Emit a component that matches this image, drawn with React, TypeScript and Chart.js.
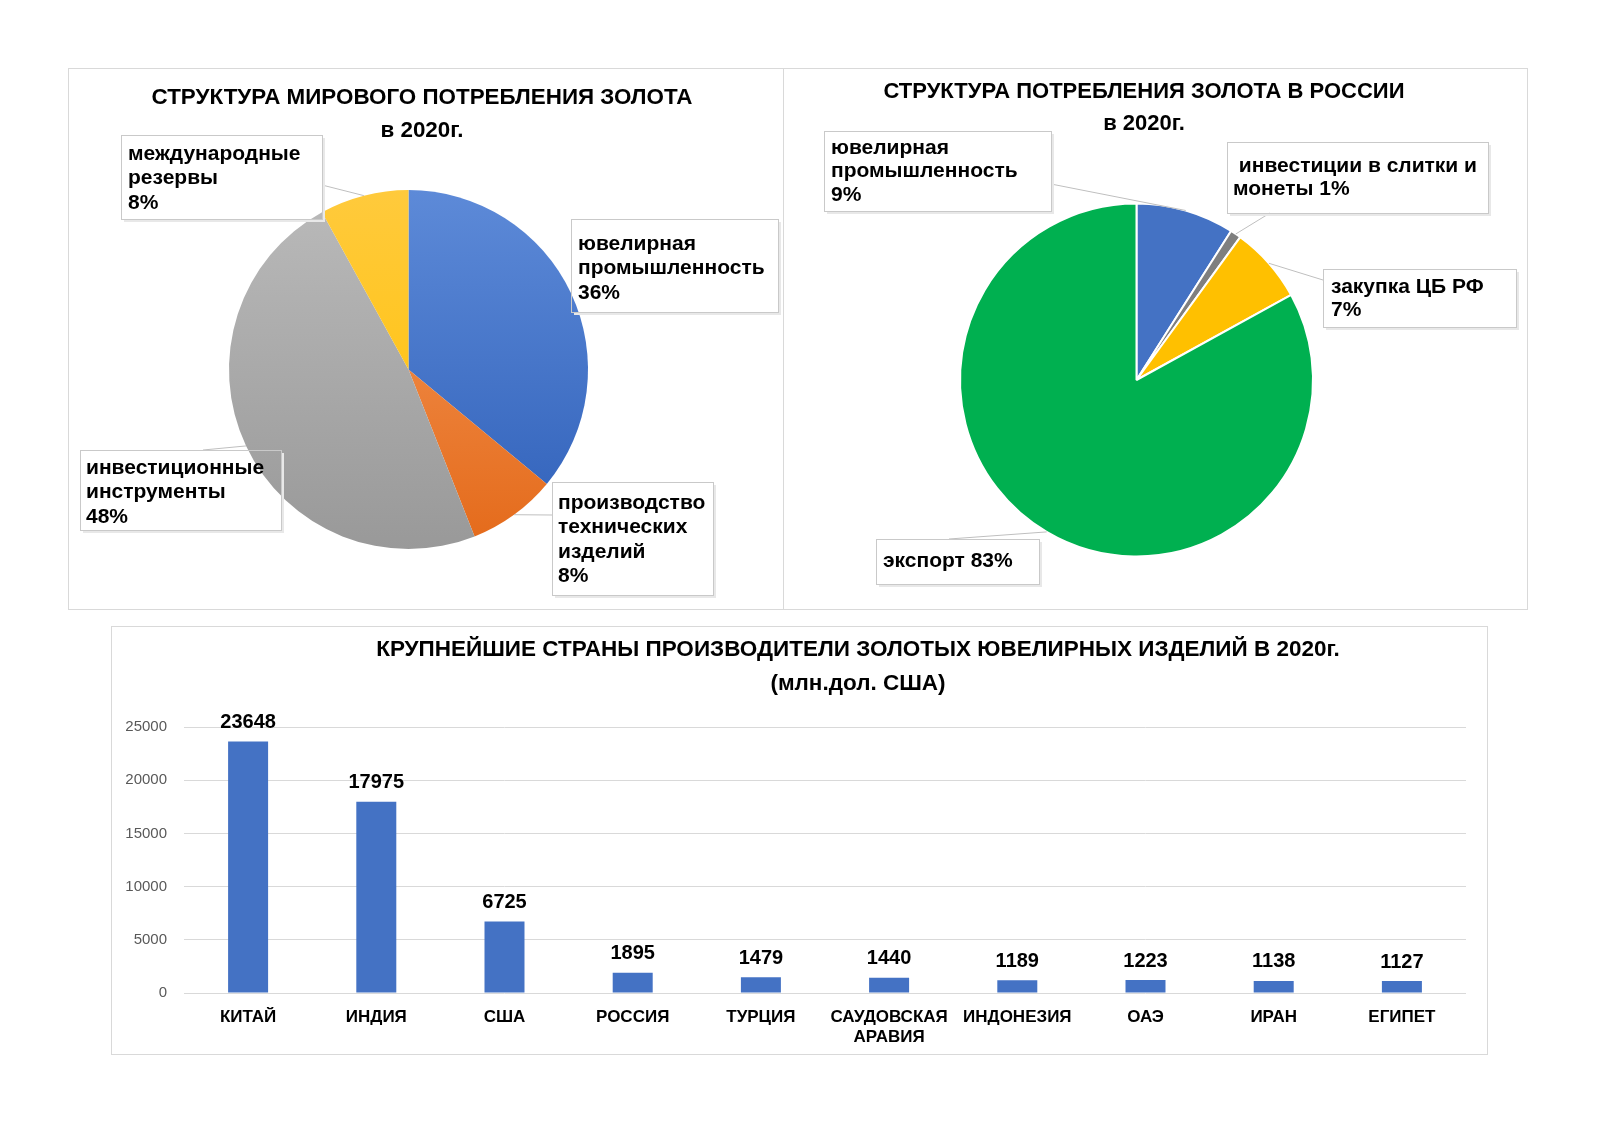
import React, { useEffect, useRef } from "react";
import { Chart, registerables } from "chart.js";

Chart.register(...registerables);

const FONT = '"Liberation Sans", Arial, Helvetica, sans-serif';

// ---------- World gold consumption 2020 ----------
const worldTitle = ["СТРУКТУРА МИРОВОГО ПОТРЕБЛЕНИЯ ЗОЛОТА", "в 2020г."];
const worldCategories = [
  "ювелирная промышленность",
  "производство технических изделий",
  "инвестиционные инструменты",
  "международные резервы",
];
const worldShares = [36, 8, 48, 8];
const worldLabelLines = [
  ["ювелирная", "промышленность"],
  ["производство", "технических", "изделий"],
  ["инвестиционные", "инструменты"],
  ["международные", "резервы"],
];
const worldColorsLight = ["#5d8ad8", "#f59a5c", "#bababa", "#ffca3c"];
const worldColorsDark = ["#2f60b9", "#e46a1a", "#999999", "#ffc000"];

// ---------- Russia gold consumption 2020 ----------
const russiaTitle = ["СТРУКТУРА ПОТРЕБЛЕНИЯ ЗОЛОТА В РОССИИ", "в 2020г."];
const russiaCategories = [
  "ювелирная промышленность",
  "инвестиции в слитки и монеты",
  "закупка ЦБ РФ",
  "экспорт",
];
const russiaShares = [9, 1, 7, 83];
const russiaLabelLines = [
  ["ювелирная", "промышленность"],
  [" инвестиции в слитки и", "монеты"],
  ["закупка ЦБ РФ"],
  ["экспорт"],
];
const russiaPctInline = [false, true, false, true];
const russiaColors = ["#4472C4", "#7f7f7f", "#FFC000", "#00B050"];

// ---------- Largest gold jewellery producers 2020 ----------
const barTitle = [
  "КРУПНЕЙШИЕ СТРАНЫ ПРОИЗВОДИТЕЛИ ЗОЛОТЫХ ЮВЕЛИРНЫХ ИЗДЕЛИЙ В 2020г.",
  "(млн.дол. США)",
];
const countries = [
  "КИТАЙ",
  "ИНДИЯ",
  "США",
  "РОССИЯ",
  "ТУРЦИЯ",
  ["САУДОВСКАЯ", "АРАВИЯ"],
  "ИНДОНЕЗИЯ",
  "ОАЭ",
  "ИРАН",
  "ЕГИПЕТ",
];
const productionValues = [23648, 17975, 6725, 1895, 1479, 1440, 1189, 1223, 1138, 1127];
const yTicks = [0, 5000, 10000, 15000, 20000, 25000];

function buildLines(lines: string[], pct: number, inline: boolean): string[] {
  const out = lines.slice();
  if (inline) out[out.length - 1] = out[out.length - 1] + " " + pct + "%";
  else out.push(pct + "%");
  return out;
}

const calloutPlugin = {
  id: "callouts",
  afterDraw(chart: any, _args: any, opts: any) {
    const ctx = chart.ctx as CanvasRenderingContext2D;
    const meta = chart.getDatasetMeta(0);
    ctx.save();
    ctx.fillStyle = "#000";
    ctx.font = `bold ${opts.titleSize}px ${FONT}`;
    ctx.textAlign = "center";
    ctx.textBaseline = "middle";
    (opts.title as string[]).forEach((t, i) => ctx.fillText(t, opts.titleX, opts.titleY + i * opts.titleGap));

    (opts.boxes as any[]).forEach((b, i) => {
      const arc = meta.data[i];
      if (!arc) return;
      const p = arc.getProps(["x", "y", "startAngle", "endAngle", "outerRadius"], true);
      const mid = (p.startAngle + p.endAngle) / 2;
      const px = p.x + Math.cos(mid) * p.outerRadius;
      const py = p.y + Math.sin(mid) * p.outerRadius;
      ctx.strokeStyle = "#bfbfbf";
      ctx.lineWidth = 1;
      ctx.beginPath();
      ctx.moveTo(px, py);
      ctx.lineTo(b.ax, b.ay);
      ctx.stroke();
      ctx.strokeStyle = "#e8e8e8";
      ctx.lineWidth = 2;
      ctx.beginPath();
      ctx.moveTo(b.x + b.w + 2, b.y + 3);
      ctx.lineTo(b.x + b.w + 2, b.y + b.h + 2);
      ctx.lineTo(b.x + 3, b.y + b.h + 2);
      ctx.stroke();
      ctx.strokeStyle = "#c9c9c9";
      ctx.lineWidth = 1;
      ctx.strokeRect(Math.round(b.x) + 0.5, Math.round(b.y) + 0.5, b.w, b.h);
      ctx.fillStyle = "#000";
      ctx.font = `bold ${opts.labelSize}px ${FONT}`;
      ctx.textAlign = "left";
      ctx.textBaseline = "middle";
      (b.lines as string[]).forEach((ln, j) => ctx.fillText(ln, b.tx, b.ty + j * opts.labelGap));
    });
    ctx.restore();
  },
};

const barLabelPlugin = {
  id: "barExtras",
  afterDraw(chart: any, _args: any, opts: any) {
    const ctx = chart.ctx as CanvasRenderingContext2D;
    ctx.save();
    ctx.fillStyle = "#000";
    ctx.textAlign = "center";
    ctx.textBaseline = "middle";
    ctx.font = `bold ${opts.titleSize}px ${FONT}`;
    (opts.title as string[]).forEach((t, i) => ctx.fillText(t, opts.titleX, opts.titleY + i * opts.titleGap));
    ctx.font = `bold ${opts.valueSize}px ${FONT}`;
    const meta = chart.getDatasetMeta(0);
    const data = chart.data.datasets[0].data;
    meta.data.forEach((bar: any, i: number) => {
      ctx.fillText(String(data[i]), bar.x, bar.y - 19);
    });
    ctx.restore();
  },
};

const worldFill = (c: any) => {
  const i = c.dataIndex ?? 0;
  const chart = c.chart;
  const area = chart.chartArea;
  if (!area) return worldColorsDark[i];
  const g = chart.ctx.createLinearGradient(0, area.top, 0, area.bottom);
  g.addColorStop(0, worldColorsLight[i]);
  g.addColorStop(1, worldColorsDark[i]);
  return g;
};

const Panel: React.FC<{ x: number; y: number; w: number; h: number; make: (c: HTMLCanvasElement) => Chart }> = ({
  x,
  y,
  w,
  h,
  make,
}) => {
  const ref = useRef<HTMLCanvasElement | null>(null);
  useEffect(() => {
    if (!ref.current) return;
    const chart = make(ref.current);
    return () => chart.destroy();
  }, []);
  return (
    <>
      <canvas
        ref={ref}
        width={w}
        height={h}
        style={{ position: "absolute", left: x, top: y, width: w, height: h }}
      />
      <div
        style={{
          position: "absolute",
          left: x,
          top: y,
          width: w,
          height: h,
          boxSizing: "border-box",
          border: "1px solid #d9d9d9",
          pointerEvents: "none",
        }}
      />
    </>
  );
};

export default function App() {
  const makeWorld = (canvas: HTMLCanvasElement) =>
    new Chart(canvas, {
      type: "pie",
      data: {
        labels: worldCategories,
        datasets: [
          {
            data: worldShares,
            backgroundColor: worldFill as any,
            borderWidth: 0,
          },
        ],
      },
      options: {
        animation: false,
        responsive: false,
        layout: { padding: { left: 161, right: 196, top: 122, bottom: 61 } },
        plugins: {
          legend: { display: false },
          tooltip: { enabled: false },
          callouts: {
            title: worldTitle,
            titleX: 354,
            titleY: 30,
            titleGap: 33,
            titleSize: 22.4,
            labelSize: 21,
            labelGap: 24.5,
            boxes: [
              { x: 503, y: 151, w: 207, h: 93, tx: 510, ty: 176, ax: 503, ay: 225, lines: buildLines(worldLabelLines[0], worldShares[0], false) },
              { x: 484, y: 414, w: 161, h: 113, tx: 490, ty: 435, ax: 484, ay: 447, lines: buildLines(worldLabelLines[1], worldShares[1], false) },
              { x: 12, y: 382, w: 201, h: 80, tx: 18, ty: 400, ax: 135, ay: 382, lines: buildLines(worldLabelLines[2], worldShares[2], false) },
              { x: 53, y: 67, w: 201, h: 84, tx: 60, ty: 86, ax: 254, ay: 117, lines: buildLines(worldLabelLines[3], worldShares[3], false) },
            ],
          },
        } as any,
      },
      plugins: [calloutPlugin as any],
    });

  const makeRussia = (canvas: HTMLCanvasElement) =>
    new Chart(canvas, {
      type: "pie",
      data: {
        labels: russiaCategories,
        datasets: [
          {
            data: russiaShares,
            backgroundColor: russiaColors,
            borderColor: "#ffffff",
            borderWidth: 2,
          },
        ],
      },
      options: {
        animation: false,
        responsive: false,
        layout: { padding: { left: 176, right: 214, top: 134, bottom: 52 } },
        plugins: {
          legend: { display: false },
          tooltip: { enabled: false },
          callouts: {
            title: russiaTitle,
            titleX: 361,
            titleY: 24,
            titleGap: 32,
            titleSize: 22,
            labelSize: 21,
            labelGap: 23.5,
            boxes: [
              { x: 41, y: 63, w: 227, h: 80, tx: 48, ty: 80, ax: 268, ay: 116, lines: buildLines(russiaLabelLines[0], russiaShares[0], russiaPctInline[0]) },
              { x: 444, y: 74, w: 261, h: 71, tx: 450, ty: 98, ax: 487, ay: 145, lines: buildLines(russiaLabelLines[1], russiaShares[1], russiaPctInline[1]) },
              { x: 540, y: 201, w: 193, h: 58, tx: 548, ty: 219, ax: 540, ay: 212, lines: buildLines(russiaLabelLines[2], russiaShares[2], russiaPctInline[2]) },
              { x: 93, y: 471, w: 163, h: 45, tx: 100, ty: 493, ax: 166, ay: 471, lines: buildLines(russiaLabelLines[3], russiaShares[3], russiaPctInline[3]) },
            ],
          },
        } as any,
      },
      plugins: [calloutPlugin as any],
    });

  const makeBars = (canvas: HTMLCanvasElement) =>
    new Chart(canvas, {
      type: "bar",
      data: {
        labels: countries as any,
        datasets: [
          {
            data: productionValues,
            backgroundColor: "#4472C4",
            barPercentage: 0.312,
            categoryPercentage: 1,
          },
        ],
      },
      options: {
        animation: false,
        responsive: false,
        layout: { padding: { left: 0, right: 22, top: 101, bottom: 0 } },
        plugins: {
          legend: { display: false },
          tooltip: { enabled: false },
          barExtras: {
            title: barTitle,
            titleX: 747,
            titleY: 24,
            titleGap: 34,
            titleSize: 22.5,
            valueSize: 20,
          },
        } as any,
        scales: {
          x: {
            grid: { display: false },
            border: { display: false },
            ticks: {
              color: "#000",
              font: { family: FONT, size: 17, weight: "bold", lineHeight: 1.18 },
              padding: 6,
              maxRotation: 0,
              autoSkip: false,
            },
            afterFit: (s: any) => {
              s.height = 62;
            },
          },
          y: {
            min: 0,
            max: 25000,
            afterBuildTicks: (s: any) => {
              s.ticks = yTicks.map((v) => ({ value: v }));
            },
            ticks: {
              color: "#595959",
              font: { family: FONT, size: 15 },
              padding: 17,
              callback: (v: any) => String(v),
            },
            grid: { color: "#d9d9d9", drawTicks: false, lineWidth: 1 },
            border: { display: false },
            afterFit: (s: any) => {
              s.width = 73;
            },
          },
        },
      },
      plugins: [barLabelPlugin as any],
    });

  return (
    <div
      style={{
        position: "absolute",
        left: 0,
        top: 0,
        width: 1600,
        height: 1131,
        background: "#ffffff",
        overflow: "hidden",
      }}
    >
      <Panel x={68} y={68} w={716} h={542} make={makeWorld} />
      <Panel x={783} y={68} w={745} h={542} make={makeRussia} />
      <Panel x={111} y={626} w={1377} h={429} make={makeBars} />
    </div>
  );
}
